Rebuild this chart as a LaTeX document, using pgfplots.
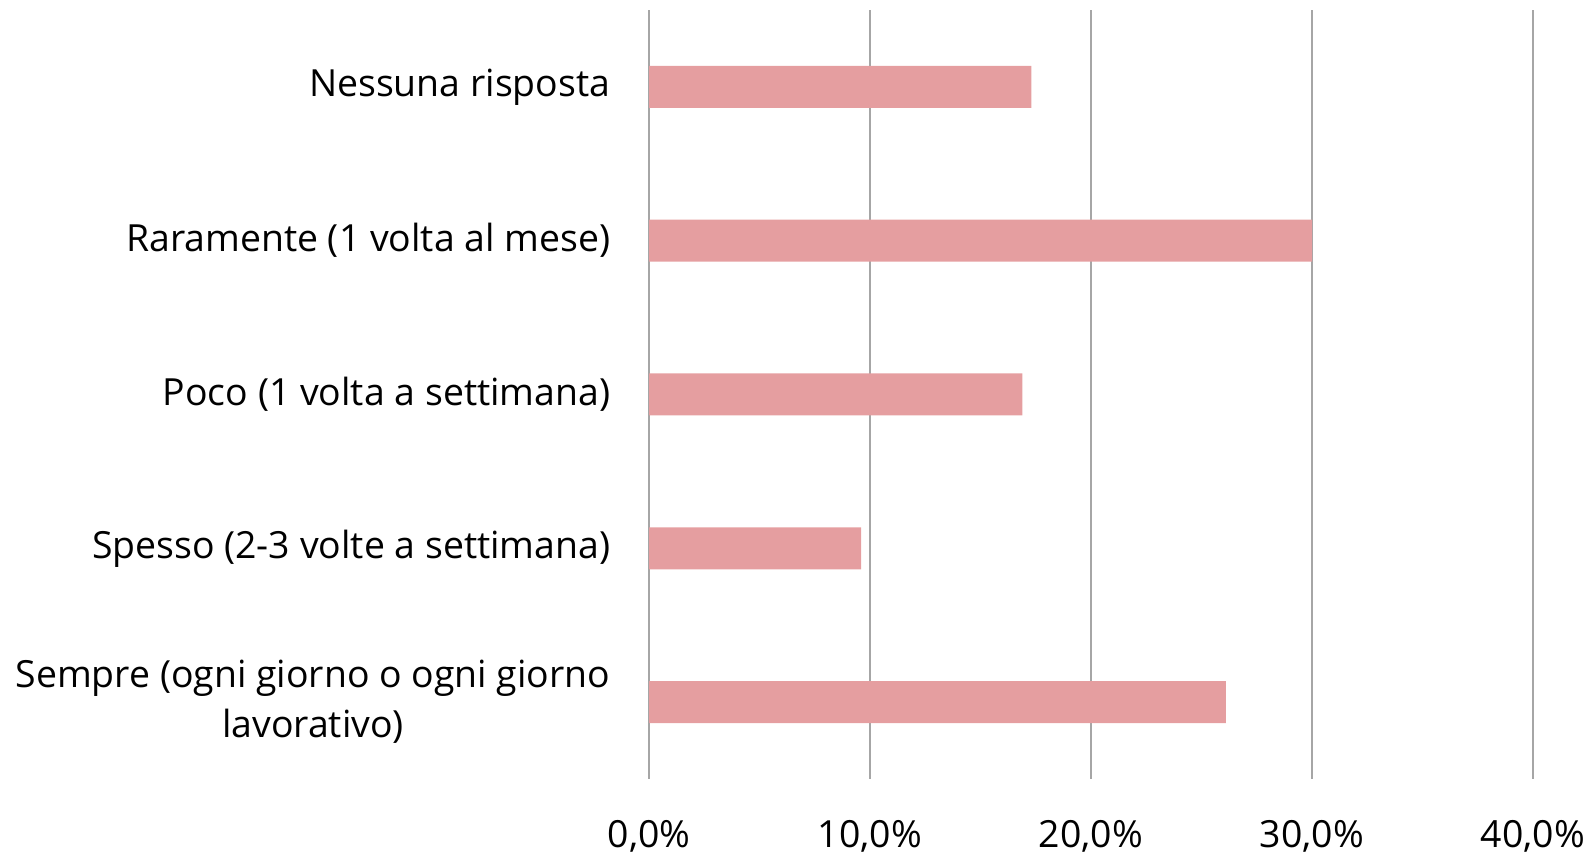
\documentclass[border=0pt]{standalone}
\usepackage{pgfplots}
\pgfplotsset{compat=1.18}
\usepackage{fontspec}
\setmainfont{Open Sans}
\definecolor{barc}{HTML}{E59EA0}
\definecolor{gridc}{HTML}{A6A6A6}
\begin{document}
\fontsize{18.7}{25}\selectfont
\begin{tikzpicture}
\path[use as bounding box] (0,0) rectangle (795pt,427pt);
\begin{axis}[
  at={(324.5pt,37.5pt)}, anchor=south west,
  scale only axis, width=442pt, height=384.5pt,
  xbar, bar width=21pt,
  xmin=0, xmax=40, ymin=-0.5, ymax=4.5,
  axis lines=left, axis line style={draw=none},
  xtick={0,10,20,30,40},
  xticklabels={{0,0\%},{10,0\%},{20,0\%},{30,0\%},{40,0\%}},
  ytick={0,1,2,3,4},
  yticklabels={{Sempre (ogni giorno o ogni giorno\\lavorativo)},{Spesso (2-3 volte a settimana)},{Poco (1 volta a settimana)},{Raramente (1 volta al mese)},{Nessuna risposta}},
  tick style={draw=none},
  xmajorgrids, grid style={gridc, line width=0.75pt},
  yticklabel style={align=center, inner sep=0pt, xshift=-17pt, font=\fontsize{18.7}{25}\selectfont},
  xticklabel style={inner sep=0pt, anchor=north, yshift=-18.5pt, font=\fontsize{18.7}{25}\selectfont},
]
\addplot[fill=barc, draw=none] coordinates {(26.1,0) (9.6,1) (16.9,2) (30.0,3) (17.3,4)};
\end{axis}
\end{tikzpicture}
\end{document}
